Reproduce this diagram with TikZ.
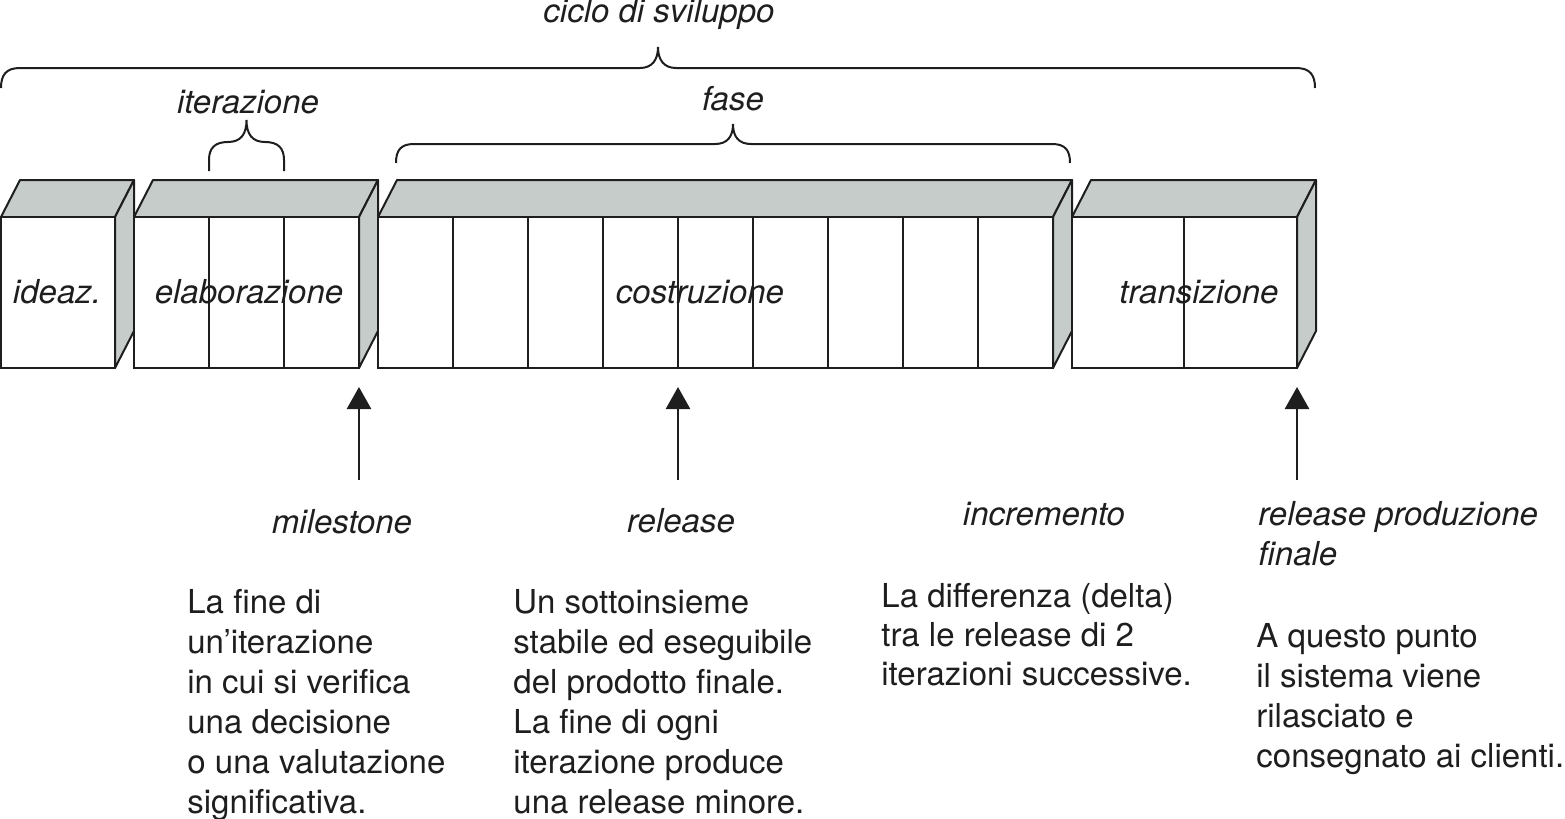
\documentclass[tikz,border=0pt]{standalone}
\usepackage{fontspec}
\setmainfont{TeX Gyre Heros}
\usetikzlibrary{arrows.meta}
\definecolor{boxgray}{RGB}{198,204,202}
\definecolor{ink}{RGB}{30,30,30}
\newcommand\phbox[3]{% name, x0, x1
  \draw[face] (#2,217) -- (#2+19,180) -- (#3+19,180) -- (#3,217) -- cycle;
  \draw[face] (#3,217) -- (#3+19,180) -- (#3+19,331) -- (#3,368) -- cycle;
  \node[front, minimum width={(#3-#2)*0.5pt}] (#1) at ({(#2+#3)/2},292.5) {};
}
\tikzset{
  ln/.style={line width=1pt, draw=ink},
  face/.style={ln, fill=boxgray, line join=round},
  front/.style={ln, fill=white, inner sep=0pt, outer sep=0pt, minimum height=75.5pt},
  lbl/.style={font=\fontsize{16.5}{20}\selectfont\itshape, inner sep=0pt, text=ink},
  desc/.style={font=\fontsize{16.5}{20}\selectfont, align=left, anchor=north west, inner sep=0pt, text=ink},
  brc/.style={line width=1pt, draw=ink},
  arr/.style={line width=1.3pt, draw=ink, -{Triangle[width=12pt,length=11pt]}}
}
\begin{document}
\begin{tikzpicture}[x=0.5pt,y=-0.5pt]
\useasboundingbox (0,0) rectangle (1565,819);

% phase boxes
\phbox{ideaz}{1}{115}
\phbox{elab}{134}{359}
\phbox{costr}{378}{1053}
\phbox{trans}{1072}{1297}
\draw[ln] (209,217) -- (209,368);
\draw[ln] (284,217) -- (284,368);
\foreach \x in {453,528,...,978} \draw[ln] (\x,217) -- (\x,368);
\draw[ln] (1184,217) -- (1184,368);

% box labels
\node[lbl, anchor=base] (t-ideaz) at (57,303) {ideaz.};
\node[lbl, anchor=base] (t-elab) at (249,303) {elaborazione};
\node[lbl, anchor=base] (t-costr) at (700,303) {costruzione};
\node[lbl, anchor=base] (t-trans) at (1199,303) {transizione};

% braces
\draw[brc] (1,88) .. controls (1,75) and (6,68) .. (20,68) -- (640,68)
  .. controls (652,68) and (658,60) .. (658,47)
  .. controls (658,60) and (664,68) .. (676,68) -- (1296,68)
  .. controls (1310,68) and (1315,75) .. (1315,88);
\draw[brc] (396,163) .. controls (396,150) and (401,144) .. (414,144) -- (715,144)
  .. controls (727,144) and (733,137) .. (733,124)
  .. controls (733,137) and (739,144) .. (751,144) -- (1052,144)
  .. controls (1065,144) and (1070,150) .. (1070,163);
\draw[brc] (209,171) -- (209,160) .. controls (209,148) and (215,142) .. (228,142)
  .. controls (241,142) and (246.5,134) .. (246.5,120)
  .. controls (246.5,134) and (252,142) .. (265,142)
  .. controls (278,142) and (284,148) .. (284,160) -- (284,171);

\node[lbl, anchor=base] (t-ciclo) at (659,23) {ciclo di sviluppo};
\node[lbl, anchor=base] (t-iter) at (248,113) {iterazione};
\node[lbl, anchor=base] (t-fase) at (733,110) {fase};

% arrows
\coordinate (a1s) at (359,480); \coordinate (a1e) at (359,387);
\coordinate (a2s) at (678,480); \coordinate (a2e) at (678,387);
\coordinate (a3s) at (1297,480); \coordinate (a3e) at (1297,387);
\draw[arr] (a1s) -- (a1e);
\draw[arr] (a2s) -- (a2e);
\draw[arr] (a3s) -- (a3e);

% lower labels
\node[lbl, anchor=base] (t-mile) at (342,533) {milestone};
\node[lbl, anchor=base] (t-rel) at (681,532) {release};
\node[lbl, anchor=base] (t-incr) at (1044,525) {incremento};
\node[lbl, anchor=north west, align=left] (t-final) at (1258,497) {\strut release produzione\\finale};

% descriptions
\node[desc] (d-mile) at (187,585) {\strut La fine di\\un’iterazione\\in cui si verifica\\una decisione\\o una valutazione\\significativa.};
\node[desc] (d-rel) at (513,585) {\strut Un sottoinsieme\\stabile ed eseguibile\\del prodotto finale.\\La fine di ogni\\iterazione produce\\una release minore.};
\node[desc, font=\fontsize{16.5}{19.5}\selectfont] (d-incr) at (881,580) {\strut La differenza (delta)\\tra le release di 2\\iterazioni successive.};
\node[desc] (d-final) at (1256,619) {\strut A questo punto\\il sistema viene\\rilasciato e\\consegnato ai clienti.};
\end{tikzpicture}
\end{document}
